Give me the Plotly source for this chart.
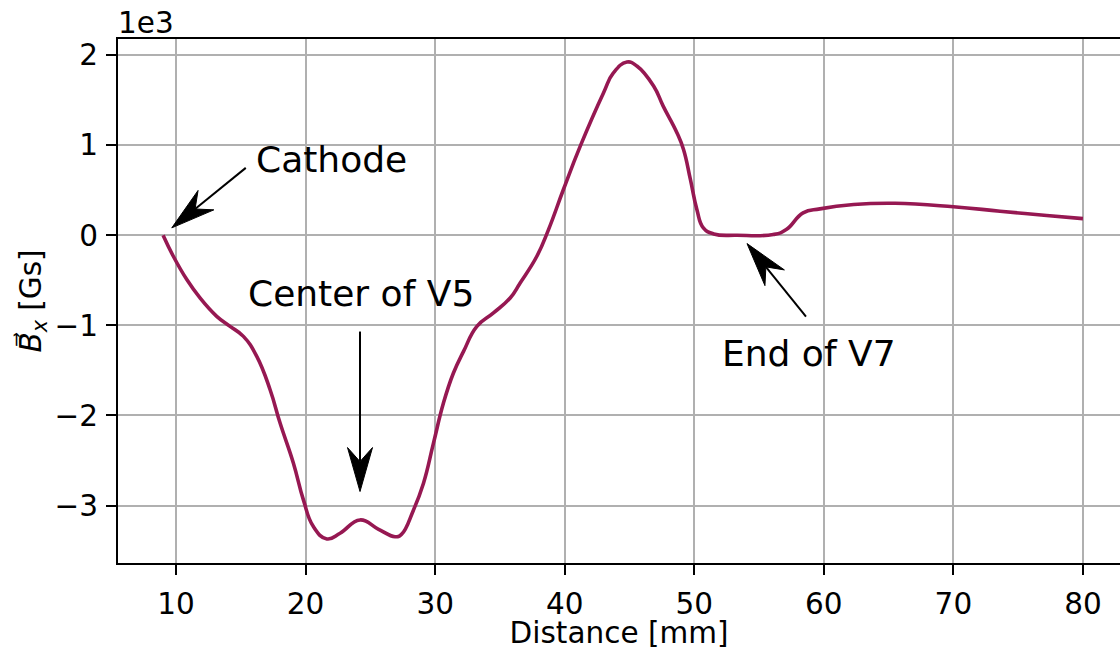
import plotly.graph_objects as go

# Magnetic field component along the beam axis
distance_mm = [9.0, 9.79, 10.83, 11.85, 13.14, 14.17, 15.2, 16.23, 17.26, 18.03, 19.06,
               19.83, 20.6, 21.64, 22.66, 24.2, 25.6, 26.9, 27.4, 28.33, 29.1, 29.87,
               30.64, 31.41, 32.19, 33.22, 34.5, 35.79, 36.56, 37.85, 38.75, 39.9,
               41.2, 43.0, 43.77, 44.8, 45.57, 46.86, 47.6, 48.66, 49.17, 49.7, 50.2,
               50.7, 51.5, 53.3, 56.1, 57.1, 58.4, 59.7, 62.3, 65.5, 70.0, 73.6,
               77.2, 80.0]
bx_gs = [0, -233, -492, -696, -900, -1011, -1122, -1344, -1714, -2084, -2529,
         -2937, -3233, -3370, -3307, -3159, -3260, -3345, -3320, -3048, -2751, -2307,
         -1862, -1529, -1289, -1011, -862, -696, -529, -233, 63, 508,
         989, 1582, 1804, 1922, 1878, 1656, 1433, 1138, 952, 619, 286,
         82, 15, 0, 8, 63, 249, 293, 341, 355, 316, 267,
         219, 185]

x_ticks = [10, 20, 30, 40, 50, 60, 70, 80]
y_ticks = [-3000, -2000, -1000, 0, 1000, 2000]
y_tick_text = ["\u22123", "\u22122", "\u22121", "0", "1", "2"]

# Labelled points: text, text centre (data), arrow tip (data), tail offset (px, up positive)
labels = ["Cathode", "Center of V5", "End of V7"]
label_x = [22.0, 24.25, 58.85]
label_y = [845, -650, -1310]
tip_x = [9.67, 24.2, 54.07]
tip_y = [82, -2844, -92]
tail_dx = [74, 0, 59]
tail_dy = [60, 160, -73]

FONT = "DejaVu Sans"
LINE_COLOR = "#961852"
TICK_SIZE = 29.5

fig = go.Figure()
fig.add_trace(go.Scatter(
    x=distance_mm, y=bx_gs, mode="lines",
    line=dict(color=LINE_COLOR, width=3.6, shape="spline", smoothing=1.3,
              simplify=False),
    showlegend=False, hoverinfo="skip",
))

shapes = []
annotations = []
HEAD_LEN, HEAD_HALF, NOTCH = 44.0, 12.5, 30.0
for i, text in enumerate(labels):
    annotations.append(dict(
        x=label_x[i], y=label_y[i], xref="x", yref="y", text=text,
        showarrow=False, xanchor="center", yanchor="middle",
        font=dict(family=FONT, size=36, color="black"),
    ))
    dx, dy = tail_dx[i], tail_dy[i]
    length = (dx * dx + dy * dy) ** 0.5
    ux, uy = dx / length, dy / length      # unit vector tip -> tail
    px, py = -uy, ux                       # perpendicular
    # shaft from tail to notch of head
    shapes.append(dict(
        type="line", xref="x", yref="y", xsizemode="pixel", ysizemode="pixel",
        xanchor=tip_x[i], yanchor=tip_y[i],
        x0=dx, y0=dy, x1=ux * NOTCH, y1=uy * NOTCH,
        line=dict(color="black", width=2),
    ))
    bx1 = ux * HEAD_LEN + px * HEAD_HALF
    by1 = uy * HEAD_LEN + py * HEAD_HALF
    bx2 = ux * HEAD_LEN - px * HEAD_HALF
    by2 = uy * HEAD_LEN - py * HEAD_HALF
    nx, ny = ux * NOTCH, uy * NOTCH
    path = f"M0,0 L{bx1:.2f},{by1:.2f} L{nx:.2f},{ny:.2f} L{bx2:.2f},{by2:.2f} Z"
    shapes.append(dict(
        type="path", xref="x", yref="y", xsizemode="pixel", ysizemode="pixel",
        xanchor=tip_x[i], yanchor=tip_y[i], path=path,
        fillcolor="black", line=dict(color="black", width=1),
    ))

# Offset (scale) text for the y axis
annotations.append(dict(
    x=0, y=1, xref="paper", yref="paper", text="1e3", showarrow=False,
    xanchor="left", yanchor="bottom", xshift=-2, yshift=-3,
    font=dict(family=FONT, size=TICK_SIZE, color="black"),
))

fig.update_layout(
    width=1120, height=650,
    margin=dict(l=118, r=0, t=39, b=87),
    paper_bgcolor="white", plot_bgcolor="white",
    font=dict(family=FONT, size=TICK_SIZE, color="black"),
    shapes=shapes, annotations=annotations,
    xaxis=dict(
        range=[5.52, 82.86], tickvals=x_ticks,
        showgrid=True, gridcolor="#b0b0b0", gridwidth=2,
        showline=True, linecolor="black", linewidth=2, mirror=True,
        ticks="outside", ticklen=10, tickwidth=2, tickcolor="black",
        ticklabelstandoff=4,
        tickfont=dict(family=FONT, size=TICK_SIZE),
        zeroline=False,
        title=dict(text="Distance [mm]", font=dict(family=FONT, size=TICK_SIZE), standoff=8),
    ),
    yaxis=dict(
        range=[-3637, 2178], tickvals=y_ticks, ticktext=y_tick_text,
        showgrid=True, gridcolor="#b0b0b0", gridwidth=2,
        showline=True, linecolor="black", linewidth=2, mirror=False,
        ticks="outside", ticklen=10, tickwidth=2, tickcolor="black",
        ticklabelstandoff=2,
        tickfont=dict(family=FONT, size=TICK_SIZE),
        zeroline=False,
        title=dict(text="<i>B\u20d7</i><sub><i>x</i></sub> [Gs]",
                   font=dict(family=FONT, size=TICK_SIZE), standoff=4),
    ),
)

fig.write_html("out.html")
